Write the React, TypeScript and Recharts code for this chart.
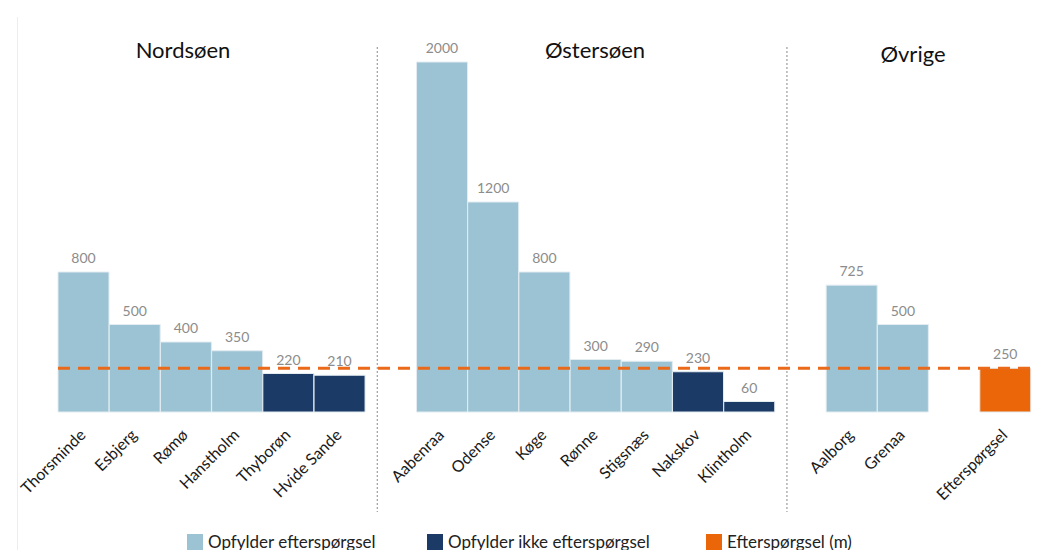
import { BarChart, Bar, XAxis, YAxis, Cell, LabelList, ReferenceLine, Legend } from 'recharts';

// Harbour capacity per location, grouped by sea. Empty strings are spacer slots between groups.
const LABELS = [
    'Thorsminde', 'Esbjerg', 'Rømø', 'Hanstholm', 'Thyborøn', 'Hvide Sande',
    '',
    'Aabenraa', 'Odense', 'Køge', 'Rønne', 'Stigsnæs', 'Nakskov', 'Klintholm',
    '',
    'Aalborg', 'Grenaa',
    '',
    'Efterspørgsel',
];
const VALUES = [
    800, 500, 400, 350, 220, 210,
    null,
    2000, 1200, 800, 300, 290, 230, 60,
    null,
    725, 500,
    null,
    250,
];
// ok = meets demand, short = does not meet demand, demand = the requirement itself
const STATUS = [
    'ok', 'ok', 'ok', 'ok', 'short', 'short',
    '',
    'ok', 'ok', 'ok', 'ok', 'ok', 'short', 'short',
    '',
    'ok', 'ok',
    '',
    'demand',
];
const DEMAND = 250;
const GROUPS = ['Nordsøen', 'Østersøen', 'Øvrige'];
const SEPARATOR_SLOTS = [6, 14];
const LEGEND_ITEMS = ['Opfylder efterspørgsel', 'Opfylder ikke efterspørgsel', 'Efterspørgsel (m)'];

const COLORS: Record<string, string> = {
    ok: '#9cc3d3',
    short: '#1b3a66',
    demand: '#ea6608',
};
const LEGEND_COLORS = [COLORS.ok, COLORS.short, COLORS.demand];

const FONT = 'Lato, "Noto Sans", sans-serif';

const data = LABELS.map((name, i) => ({ key: i, name, value: VALUES[i], status: STATUS[i] }));

function CategoryTick(props: any) {
    const { x, y, payload } = props;
    const label = LABELS[payload.value];
    if (!label) return <g />;
    return (
        <text
            x={0}
            y={0}
            transform={`translate(${x + 3},${y + 16}) rotate(-45)`}
            textAnchor="end"
            fontSize={16}
            fontFamily={FONT}
            fill="#1a1a1a"
        >
            {label}
        </text>
    );
}

function SeparatorLine(props: any) {
    const { x1, x2, y1, y2 } = props;
    const top = Math.min(y1, y2);
    const bottom = Math.max(y1, y2);
    return (
        <line
            x1={x1 + 12}
            x2={x2 + 12}
            y1={top - 15}
            y2={bottom + 100}
            stroke="#8a8a8a"
            strokeWidth={1}
            strokeDasharray="2 2"
        />
    );
}

function LegendContent() {
    const lefts = [187, 427, 706];
    return (
        <div style={{ position: 'relative', width: 1040, height: 20 }}>
            {LEGEND_ITEMS.map((item, i) => (
                <div
                    key={item}
                    style={{
                        position: 'absolute', left: lefts[i], top: 0,
                        display: 'flex', alignItems: 'center', whiteSpace: 'nowrap',
                    }}
                >
                    <span style={{ width: 16, height: 16, background: LEGEND_COLORS[i], marginRight: 5 }} />
                    <span style={{ fontSize: 17, color: '#222', fontFamily: FONT }}>{item}</span>
                </div>
            ))}
        </div>
    );
}

const titleStyle = {
    position: 'absolute' as const,
    transform: 'translateX(-50%)',
    fontSize: 22,
    fontFamily: FONT,
    color: '#111',
    whiteSpace: 'nowrap' as const,
};

export default function App() {
    const titlePos = [
        { left: 183, top: 36 },
        { left: 595, top: 36 },
        { left: 913, top: 40 },
    ];
    return (
        <div style={{ position: 'absolute', left: 0, top: 0, width: 1040, height: 550, background: '#fff', fontFamily: FONT }}>
            <div style={{ position: 'absolute', left: 17, top: 17, bottom: 0, width: 1, background: '#ededed' }} />
            {GROUPS.map((g, i) => (
                <div key={g} style={{ ...titleStyle, left: titlePos[i].left, top: titlePos[i].top }}>{g}</div>
            ))}
            <BarChart
                width={1040}
                height={550}
                data={data}
                margin={{ top: 62, right: 9, left: 58, bottom: 38 }}
                barCategoryGap={0}
            >
                <XAxis
                    dataKey="key"
                    type="category"
                    height={100}
                    axisLine={false}
                    tickLine={false}
                    interval={0}
                    tick={CategoryTick}
                />
                <YAxis hide domain={[0, 2000]} />
                <Bar dataKey="value" isAnimationActive={false} stroke="#e2ecf1" strokeWidth={1}>
                    {data.map((d) => (
                        <Cell key={d.key} fill={COLORS[d.status] || 'transparent'} />
                    ))}
                    <LabelList dataKey="value" position="top" offset={9} fill="#8c8c8c" fontSize={14} fontFamily={FONT} />
                </Bar>
                {SEPARATOR_SLOTS.map((s) => (
                    <ReferenceLine key={s} x={s} position="start" shape={SeparatorLine} />
                ))}
                <ReferenceLine y={DEMAND} stroke="#ea6a1a" strokeWidth={3} strokeDasharray="12 8" />
                <Legend
                    verticalAlign="middle"
                    align="center"
                    layout="horizontal"
                    content={LegendContent}
                    wrapperStyle={{ position: 'absolute', left: 0, top: 531, width: 1040, height: 20 }}
                />
            </BarChart>
        </div>
    );
}
